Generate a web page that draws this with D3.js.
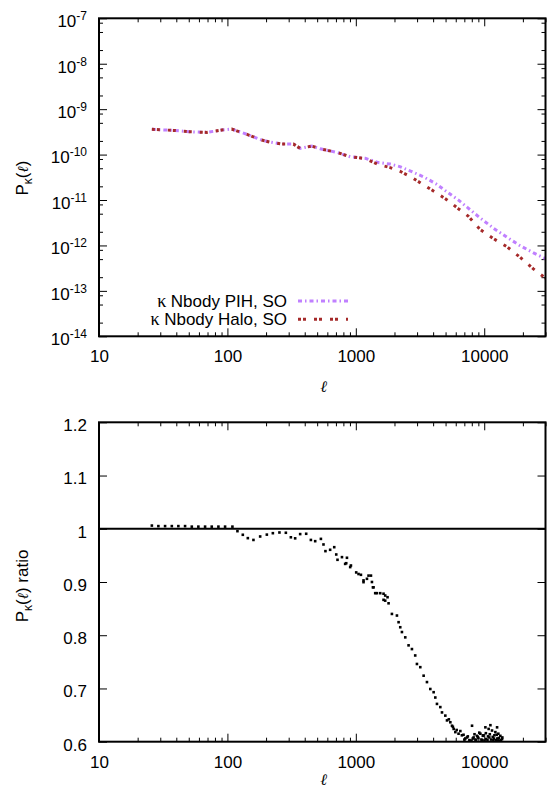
<!DOCTYPE html>
<html>
<head>
<meta charset="UTF-8">
<title>P_kappa(l)</title>
<script src="https://d3js.org/d3.v7.min.js"></script>
<style>
    body { margin: 0; background: #fff; }
    svg { display: block; font-family: "Liberation Sans", Arial, sans-serif; }
    .frame { fill: none; stroke: #000; stroke-width: 2; }
    .tick line { stroke: #000; stroke-width: 1; }
    .tick text { font-size: 17px; fill: #000; font-family: "Liberation Sans", Arial, sans-serif; }
    .domain { display: none; }
    .lbl { font-size: 17px; fill: #000; }
</style>
</head>
<body>
<svg id="chart" width="547" height="795"></svg>
<script>
// multipole grid for the two spectra
const ell = [25.8, 37.9, 51.2, 69.1, 90.4, 108, 118, 142, 185, 215, 265, 327, 369, 455, 528, 712, 904, 1183,
             1500, 1850, 2200, 2700, 3400, 4200, 5100, 6300, 7500, 9300, 11800, 15000, 19000, 24000, 30000];
const pPIH = [3.59e-10, 3.41e-10, 3.18e-10, 3.08e-10, 3.47e-10, 3.65e-10, 3.34e-10, 2.79e-10, 2.09e-10, 1.88e-10,
              1.70e-10, 1.70e-10, 1.37e-10, 1.54e-10, 1.34e-10, 1.12e-10, 8.95e-11, 8.3e-11,
              6.67e-11, 6.18e-11, 5.44e-11, 4.27e-11, 3.19e-11, 2.28e-11, 1.53e-11, 9.95e-12, 6.64e-12,
              4.02e-12, 2.40e-12, 1.52e-12, 9.9e-13, 6.94e-13, 5.12e-13];
const pHalo = [3.59e-10, 3.41e-10, 3.18e-10, 3.08e-10, 3.47e-10, 3.65e-10, 3.34e-10, 2.79e-10, 2.09e-10, 1.88e-10,
               1.70e-10, 1.70e-10, 1.37e-10, 1.54e-10, 1.34e-10, 1.12e-10, 8.95e-11, 8.2e-11,
               6.03e-11, 5.18e-11, 4.33e-11, 3.19e-11, 2.13e-11, 1.46e-11, 1.02e-11, 6.4e-12, 4.42e-12,
               2.23e-12, 1.41e-12, 9.4e-13, 5.5e-13, 3.08e-13, 1.9e-13];

// ratio points (lower panel)
const ratioEll = [25.8, 29.0, 32.7, 36.9, 41.5, 46.8, 52.8, 59.4, 67.0, 75.5, 85.1, 95.9, 109.4,
                  119.7, 131.8, 144.2, 159.5, 179.9, 202.8, 225.9, 254.2, 285.2, 312, 337, 368.6, 410.6,
                  446.7, 482.6, 534.6, 560, 580, 631, 679, 704, 720, 780, 826, 842, 853, 904, 916,
                  1007, 1050, 1096, 1148, 1148, 1221, 1256, 1312, 1335, 1359, 1374, 1416, 1459, 1549,
                  1644, 1644, 1694, 1694, 1766, 1799, 1910, 2090, 2153, 2218, 2286, 2427, 2575, 2735,
                  2901, 2992, 3177, 3373, 3581, 3802, 4036, 4159, 4285, 4550, 4688, 4977, 5129, 5445,
                  5610, 5780, 5957, 6310, 6516, 6902, 7126, 7341, 7660, 8035, 8265, 8532, 8790, 9000,
                  9333, 9668, 9840, 10210, 10380, 10820, 10960, 11170, 11500, 11780, 12000, 12210,
                  12590, 12650, 12880, 13110, 13350, 13770, 13830,
                  5300, 5700, 6100, 6700, 7000, 7450, 7850, 8150, 8400, 8650, 8900, 9150, 9500, 9750,
                  10050, 10300, 10600, 10700, 11050, 11300, 11650, 11900, 12350, 12500, 12750, 13000, 13500];
const ratioVal = [1.006, 1.005, 1.005, 1.005, 1.005, 1.005, 1.004, 1.004, 1.004, 1.004, 1.004, 1.004, 1.004,
                  0.9955, 0.9887, 0.9824, 0.979, 0.9855, 0.989, 0.9917, 0.993, 0.9925, 0.984, 0.982, 0.990, 0.9906,
                  0.979, 0.9767, 0.981, 0.9705, 0.958, 0.9605, 0.9654, 0.9517, 0.9417, 0.9467, 0.934, 0.9353, 0.9455, 0.928, 0.931,
                  0.918, 0.915, 0.9135, 0.8997, 0.903, 0.906, 0.912, 0.912, 0.900, 0.890, 0.890, 0.879, 0.879, 0.879,
                  0.878, 0.8665, 0.8746, 0.865, 0.8714, 0.860, 0.840, 0.837, 0.8245, 0.815, 0.806, 0.796, 0.781, 0.774,
                  0.762, 0.746, 0.740, 0.724, 0.712, 0.699, 0.693, 0.683, 0.671, 0.665, 0.655, 0.649, 0.640, 0.6365,
                  0.630, 0.624, 0.618, 0.615, 0.620, 0.613, 0.606, 0.608, 0.603, 0.630, 0.608, 0.604, 0.611, 0.607,
                  0.615, 0.603, 0.612, 0.627, 0.605, 0.624, 0.608, 0.631, 0.621, 0.603, 0.612, 0.618,
                  0.627, 0.606, 0.615, 0.602, 0.611, 0.605, 0.608,
                  0.642, 0.628, 0.622, 0.612, 0.604, 0.610, 0.602, 0.606, 0.614, 0.603, 0.609, 0.617, 0.604, 0.611,
                  0.602, 0.616, 0.603, 0.610, 0.614, 0.604, 0.609, 0.606, 0.603, 0.613, 0.602, 0.607, 0.603];

const xTicks = [10, 100, 1000, 10000];
const yExpTop = [-14, -13, -12, -11, -10, -9, -8, -7];
const yTicksRatio = [0.6, 0.7, 0.8, 0.9, 1.0, 1.1, 1.2];
const legendNames = ["Nbody PIH, SO", "Nbody Halo, SO"];

const svg = d3.select("#chart");
const left = 99, right = 545.5;
const top1 = 18.3, bot1 = 336.3, top2 = 422.3, bot2 = 741.7;

const x = d3.scaleLog().domain([10, 30000]).range([left, right]);
const y1 = d3.scaleLog().domain([1e-14, 1e-7]).range([bot1, top1]);
const y2 = d3.scaleLinear().domain([0.6, 1.2]).range([bot2, top2]);

// minor ticks
const xMinor = [];
xTicks.forEach(d => { for (let k = 2; k <= 9; k++) if (k * d <= 30000) xMinor.push(k * d); });
const yMinor = [];
yExpTop.slice(0, -1).forEach(e => { [2, 5, 8].forEach(k => yMinor.push(k * Math.pow(10, e))); });
const yMajorTop = yExpTop.map(e => Math.pow(10, e));

function xAxes(top, bot, labels) {
    const b = svg.append("g").attr("transform", `translate(0,${bot})`)
        .call(d3.axisBottom(x).tickValues(xTicks).tickSize(-8).tickPadding(14)
            .tickFormat(labels ? d3.format("d") : ""));
    svg.append("g").attr("transform", `translate(0,${bot})`)
        .call(d3.axisBottom(x).tickValues(xMinor).tickSize(-4).tickFormat(""));
    svg.append("g").attr("transform", `translate(0,${top})`)
        .call(d3.axisTop(x).tickValues(xTicks).tickSize(-8).tickFormat(""));
    svg.append("g").attr("transform", `translate(0,${top})`)
        .call(d3.axisTop(x).tickValues(xMinor).tickSize(-4).tickFormat(""));
    return b;
}

// ---------- top panel ----------
xAxes(top1, bot1, true);

const gl = svg.append("g").attr("transform", `translate(${left},0)`)
    .call(d3.axisLeft(y1).tickValues(yMajorTop).tickSize(-8).tickPadding(12));
gl.selectAll(".tick text").text(null).attr("dy", "0.49em").each(function(d) {
    const t = d3.select(this);
    t.append("tspan").text("10");
    t.append("tspan").attr("dy", -7).style("font-size", "12px").text(Math.round(Math.log10(d)));
});
svg.append("g").attr("transform", `translate(${left},0)`)
    .call(d3.axisLeft(y1).tickValues(yMinor).tickSize(-4).tickFormat(""));
svg.append("g").attr("transform", `translate(${right},0)`)
    .call(d3.axisRight(y1).tickValues(yMajorTop).tickSize(-8).tickFormat(""));
svg.append("g").attr("transform", `translate(${right},0)`)
    .call(d3.axisRight(y1).tickValues(yMinor).tickSize(-4).tickFormat(""));

svg.append("defs").append("clipPath").attr("id", "clip1")
    .append("rect").attr("x", left).attr("y", top1).attr("width", right - left).attr("height", bot1 - top1);
svg.select("defs").append("clipPath").attr("id", "clip2")
    .append("rect").attr("x", left).attr("y", top2).attr("width", right - left).attr("height", bot2 - top2);

const styles = [
    { color: "#c080ff", dash: "4,3,1.5,3" },
    { color: "#a52a2a", dash: "3,2,3,8" }
];
const series = [pPIH, pHalo];

const line = d3.line().x(d => x(d[0])).y(d => y1(d[1]));
series.forEach((s, i) => {
    svg.append("path")
        .datum(ell.map((l, j) => [l, s[j]]))
        .attr("clip-path", "url(#clip1)")
        .attr("fill", "none")
        .attr("stroke", styles[i].color)
        .attr("stroke-width", 3)
        .attr("stroke-dasharray", styles[i].dash)
        .attr("d", line);
});

// legend
legendNames.forEach((name, i) => {
    const yy = 301 + i * 18.3;
    const t = svg.append("text").attr("class", "lbl").attr("x", 287).attr("y", yy + 5.5)
        .attr("text-anchor", "end");
    t.append("tspan").style("font-family", "'Liberation Serif', serif").style("font-size", "18px").text("κ ");
    t.append("tspan").text(name);
    svg.append("line").attr("x1", 298).attr("x2", 348).attr("y1", yy).attr("y2", yy)
        .attr("stroke", styles[i].color).attr("stroke-width", 3)
        .attr("stroke-dasharray", styles[i].dash);
});

svg.append("rect").attr("class", "frame")
    .attr("x", left).attr("y", top1).attr("width", right - left).attr("height", bot1 - top1);

// axis labels
function ylabel(cx, cy, extra) {
    const t = svg.append("text").attr("class", "lbl")
        .attr("transform", `translate(${cx},${cy}) rotate(-90)`)
        .attr("text-anchor", "middle");
    t.append("tspan").text("P");
    t.append("tspan").attr("dy", 4).style("font-size", "12px").text("κ");
    t.append("tspan").attr("dy", -4).text("(");
    t.append("tspan").style("font-family", "'DejaVu Serif', serif").style("font-style", "italic")
        .style("font-size", "15px").text("ℓ");
    t.append("tspan").text(")" + extra);
}
ylabel(28, 178, "");

svg.append("text").attr("x", 323.5).attr("y", 392).attr("text-anchor", "middle")
    .style("font-family", "'DejaVu Serif', serif").style("font-style", "italic").style("font-size", "16px")
    .text("ℓ");

// ---------- bottom panel ----------
xAxes(top2, bot2, true);
svg.append("g").attr("transform", `translate(${left},0)`)
    .call(d3.axisLeft(y2).tickValues(yTicksRatio).tickSize(-8).tickPadding(12)
        .tickFormat(d => Math.abs(d - 1) < 1e-9 ? "1" : d.toFixed(1)))
    .selectAll(".tick text").attr("dy", "0.49em");
svg.append("g").attr("transform", `translate(${right},0)`)
    .call(d3.axisRight(y2).tickValues(yTicksRatio).tickSize(-8).tickFormat(""));

svg.append("line")
    .attr("x1", left).attr("x2", right).attr("y1", y2(1)).attr("y2", y2(1))
    .attr("stroke", "#000").attr("stroke-width", 2);

svg.append("g").attr("clip-path", "url(#clip2)")
    .selectAll("rect").data(ratioEll.map((l, j) => [l, ratioVal[j]])).enter()
    .append("rect")
    .attr("x", d => x(d[0]) - 1.3).attr("y", d => y2(d[1]) - 1.3)
    .attr("width", 2.6).attr("height", 2.6).attr("fill", "#000");

svg.append("rect").attr("class", "frame")
    .attr("x", left).attr("y", top2).attr("width", right - left).attr("height", bot2 - top2);

ylabel(28, 586, " ratio");

svg.append("text").attr("x", 323.5).attr("y", 785).attr("text-anchor", "middle")
    .style("font-family", "'DejaVu Serif', serif").style("font-style", "italic").style("font-size", "16px")
    .text("ℓ");
</script>
</body>
</html>
